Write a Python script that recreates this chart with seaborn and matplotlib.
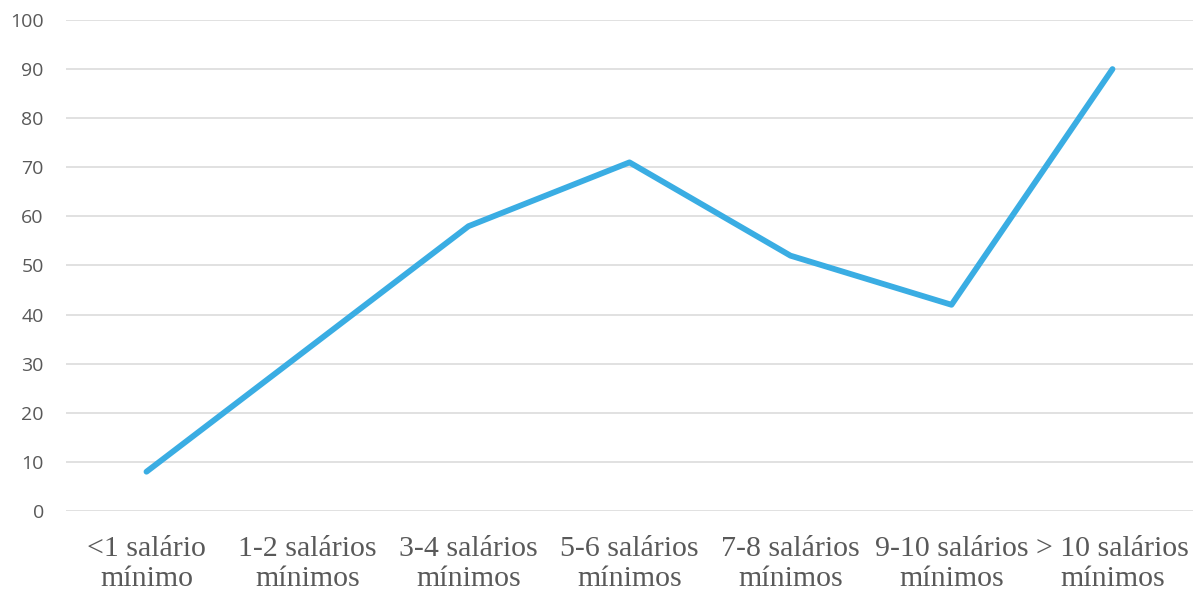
import matplotlib
matplotlib.use("Agg")
import matplotlib.pyplot as plt
import seaborn as sns
import pandas as pd

categorias = [
    "<1 salário\nmínimo",
    "1-2 salários\nmínimos",
    "3-4 salários\nmínimos",
    "5-6 salários\nmínimos",
    "7-8 salários\nmínimos",
    "9-10 salários\nmínimos",
    "> 10 salários\nmínimos",
]
valores = [8, 33, 58, 71, 52, 42, 90]
y_ticks = [0, 10, 20, 30, 40, 50, 60, 70, 80, 90, 100]

sns.set_theme(style="white")

df = pd.DataFrame({"faixa": categorias, "valor": valores})

fig = plt.figure(figsize=(12.02, 5.95), dpi=100)
ax = fig.add_axes([0.0549, 0.1412, 0.9376, 0.8252])

sns.lineplot(data=df, x="faixa", y="valor", sort=False, ax=ax,
             color="#3AADE3", linewidth=4.2, solid_capstyle="round",
             solid_joinstyle="round", zorder=3)

ax.set_xlim(-0.5, len(categorias) - 0.5)
ax.set_ylim(0, 100)
ax.set_yticks(y_ticks)
ax.set_yticklabels([str(v) for v in y_ticks], fontfamily="Open Sans",
                   fontsize=14, color="#595959")
ax.set_xticks(range(len(categorias)))
ax.set_xticklabels(categorias, fontfamily="Liberation Serif", fontsize=21.5,
                   color="#595959", linespacing=1.22)
ax.tick_params(axis="y", length=0, pad=16)
ax.tick_params(axis="x", length=0, pad=18)
ax.set_xlabel("")
ax.set_ylabel("")

ax.grid(axis="y", color="#D9D9D9", linewidth=1.1)
ax.set_axisbelow(True)
for s in ax.spines.values():
    s.set_visible(False)

fig.savefig("out.png", dpi=100, facecolor="white")
